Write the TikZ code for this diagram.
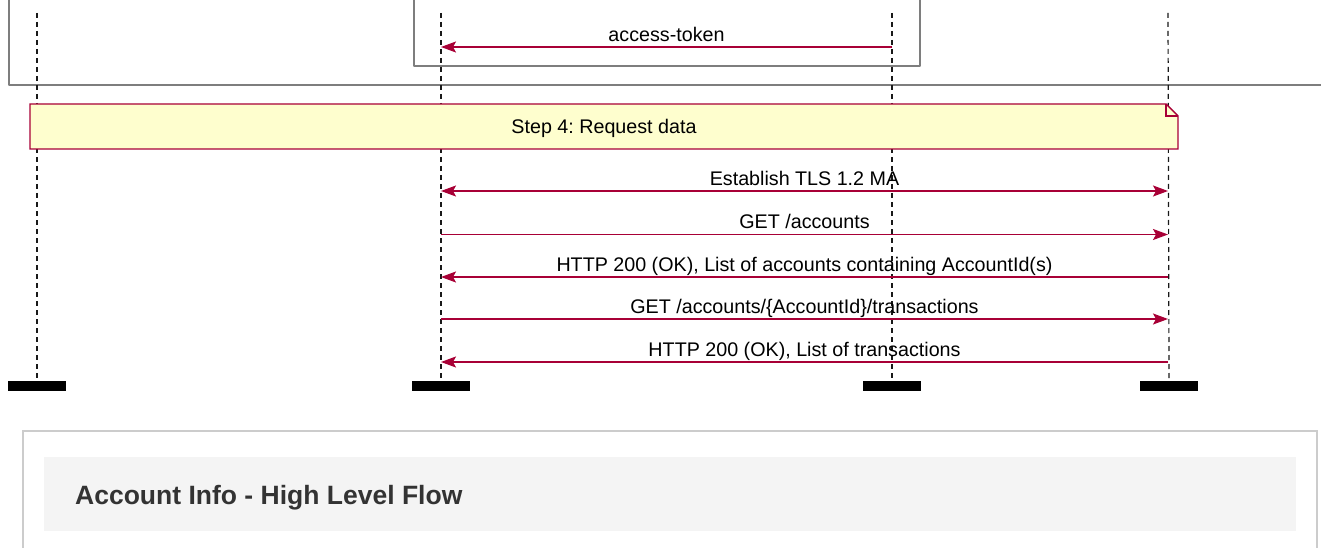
\documentclass[tikz,border=0pt]{standalone}
\usepackage{fontspec}
\setmainfont{Liberation Sans}
\usetikzlibrary{arrows.meta}
\frenchspacing
\definecolor{umlred}{HTML}{A80036}
\definecolor{notefill}{HTML}{FEFECE}
\definecolor{framegray}{HTML}{7E7E7E}
\definecolor{panelborder}{HTML}{CCCCCC}
\definecolor{panelfill}{HTML}{F4F4F4}
\definecolor{titlegray}{HTML}{333333}
\tikzset{
  lifeline/.style={draw=black!90, line width=1.2pt, dash pattern=on 5pt off 4pt},
  frameline/.style={draw=framegray, line width=2.2pt, line join=round},
  msg/.style={draw=umlred, line width=1.4pt},
  headtip/.style={-{Stealth[length=15pt,width=11pt,inset=3pt]}},
  bothtip/.style={{Stealth[length=15pt,width=11pt,inset=3pt]}-{Stealth[length=15pt,width=11pt,inset=3pt]}},
  msglabel/.style={anchor=base, inner sep=0pt, yshift=5.7pt, font=\fontsize{19.7pt}{23pt}\selectfont, text=black},
  endbar/.style={fill=black, draw=none, minimum width=58pt, minimum height=10pt, inner sep=0pt},
  notebox/.style={fill=notefill, draw=umlred, line width=1.4pt, line join=miter},
  notetext/.style={anchor=base, inner sep=0pt, font=\fontsize{19.7pt}{23pt}\selectfont, text=black},
  titletext/.style={anchor=base west, inner sep=0pt, font=\fontsize{26.5pt}{30pt}\selectfont\bfseries, text=titlegray}
}
\begin{document}
\begin{tikzpicture}[x=1pt, y=-1pt]
\useasboundingbox (0,0) rectangle (1321,548);
\clip (0,0) rectangle (1321,548);
\fill[white] (0,0) rectangle (1321,548);

% group frames (continuing from above)
\draw[frameline] (9,-10) -- (9,85) -- (1340,85);
\draw[frameline] (414,-10) -- (414,66) -- (920,66) -- (920,-10);

% lifelines
\coordinate (t1) at (37,13);
\coordinate (t2) at (441,13);
\coordinate (t3) at (892,13);
\coordinate (t4) at (1168,13);
\node[endbar] (e1) at (37,386) {};
\node[endbar] (e2) at (441,386) {};
\node[endbar] (e3) at (892,386) {};
\node[endbar] (e4) at (1169,386) {};
\draw[lifeline] (t1) -- (e1.north);
\draw[lifeline] (t2) -- (e2.north);
\draw[lifeline] (t3) -- (e3.north);
\draw[lifeline] (t4) -- (e4.north);

% access-token message
\coordinate (a0) at (892,47);
\coordinate (b0) at (441,47);
\draw[msg, headtip] (a0) -- node[msglabel] {access-token} (b0);

% note
\draw[notebox] (30,104) -- (1166,104) -- (1178,116) -- (1178,149) -- (30,149) -- cycle;
\draw[notebox, fill=none] (1166,104) -- (1166,116) -- (1178,116);
\node[notetext] (note) at (604,133.5) {Step 4: Request data};

% messages
\coordinate (l1) at (441,191);   \coordinate (r1) at (1168,191);
\coordinate (l2) at (441,234.5); \coordinate (r2) at (1168,234.5);
\coordinate (l3) at (441,277);   \coordinate (r3) at (1168,277);
\coordinate (l4) at (441,319);   \coordinate (r4) at (1168,319);
\coordinate (l5) at (441,362);   \coordinate (r5) at (1168,362);
\draw[msg, bothtip] (l1) -- node[msglabel] {Establish TLS 1.2 MA} (r1);
\draw[msg, headtip] (l2) -- node[msglabel] {GET /accounts} (r2);
\draw[msg, headtip] (r3) -- node[msglabel] {HTTP 200 (OK), List of accounts containing AccountId(s)} (l3);
\draw[msg, headtip] (l4) -- node[msglabel] {GET /accounts/\{AccountId\}/transactions} (r4);
\draw[msg, headtip] (r5) -- node[msglabel] {HTTP 200 (OK), List of transactions} (l5);

% bottom panel
\draw[draw=panelborder, line width=2pt] (23,570) -- (23,431) -- (1317,431) -- (1317,570);
\fill[panelfill] (44,457) rectangle (1296,531);
\node[titletext] (title) at (75,504) {Account Info - High Level Flow};
\end{tikzpicture}
\end{document}
